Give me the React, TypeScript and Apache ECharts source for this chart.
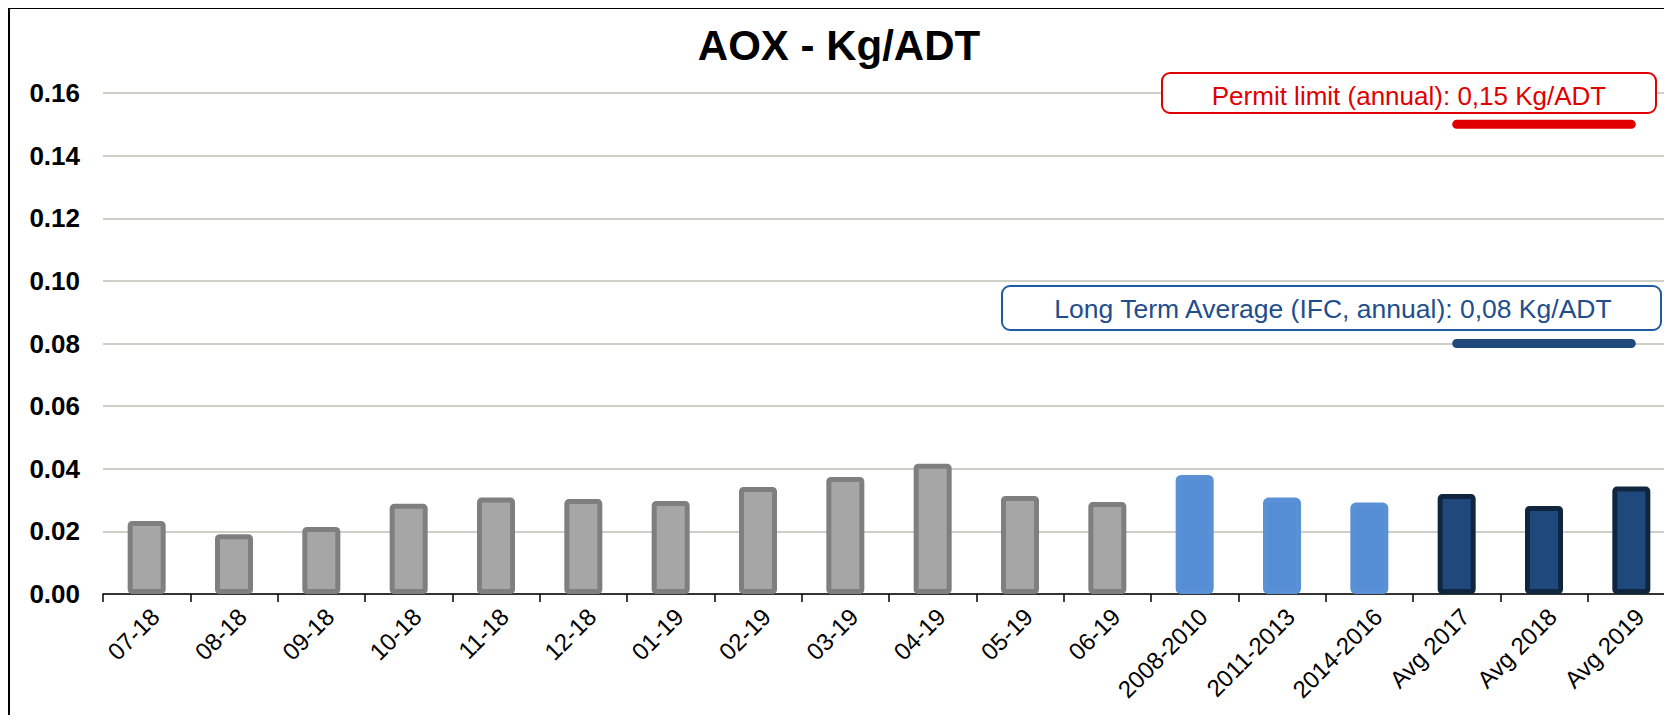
import React, { useEffect, useRef } from "react";
import * as echarts from "echarts";

// ---- data ----
const monthlyLabels = ["07-18", "08-18", "09-18", "10-18", "11-18", "12-18", "01-19", "02-19", "03-19", "04-19", "05-19", "06-19"];
const monthlyValues = [0.0233, 0.0191, 0.0214, 0.0288, 0.0308, 0.0303, 0.0297, 0.0342, 0.0374, 0.0416, 0.0313, 0.0294];
const periodLabels = ["2008-2010", "2011-2013", "2014-2016"];
const periodValues = [0.038, 0.0308, 0.0292];
const annualLabels = ["Avg 2017", "Avg 2018", "Avg 2019"];
const annualValues = [0.0319, 0.0281, 0.0343];
const permitLimit = 0.15;
const ifcLongTermAverage = 0.08;
const yMin = 0;
const yMax = 0.16;
const yInterval = 0.02;

const titleText = "AOX - Kg/ADT";
const permitText = "Permit limit (annual): 0,15 Kg/ADT";
const ifcText = "Long Term Average (IFC, annual): 0,08 Kg/ADT";

const FONT = '"Liberation Sans", Arial, sans-serif';

export default function App() {
  const ref = useRef<HTMLDivElement>(null);

  useEffect(() => {
    const chart = echarts.init(ref.current!, null, { renderer: "svg" });
    const categories = [...monthlyLabels, ...periodLabels, ...annualLabels];

    const barData = [
      ...monthlyValues.map((v) => ({
        value: v,
        itemStyle: { color: "#A6A6A6", borderColor: "#7F7F7F", borderWidth: 5, borderRadius: 2 },
      })),
      ...periodValues.map((v) => ({
        value: v,
        itemStyle: { color: "#558ED5", borderColor: "#5A91D6", borderWidth: 5, borderRadius: 3 },
      })),
      ...annualValues.map((v) => ({
        value: v,
        itemStyle: { color: "#1F497D", borderColor: "#10263F", borderWidth: 5, borderRadius: 2 },
      })),
    ];

    const refLine = (val: number) => categories.map((c) => (annualLabels.includes(c) ? val : "-"));

    chart.setOption({
      animation: false,
      backgroundColor: "#ffffff",
      grid: { left: 103, right: 25, top: 93, bottom: 130, containLabel: false },
      xAxis: {
        type: "category",
        data: categories,
        boundaryGap: true,
        axisLine: { lineStyle: { color: "#000", width: 1.5 } },
        axisTick: { show: true, length: 8, lineStyle: { color: "#000", width: 1.5 } },
        axisLabel: {
          rotate: 45,
          interval: 0,
          fontSize: 24,
          fontFamily: FONT,
          color: "#000",
          margin: 10,
          align: "right",
          verticalAlign: "top",
        },
      },
      yAxis: {
        type: "value",
        min: yMin,
        max: yMax,
        interval: yInterval,
        axisLine: { show: false },
        axisTick: { show: false },
        splitLine: { lineStyle: { color: "#BFBFB4", width: 1.5 } },
        axisLabel: {
          formatter: (v: number) => v.toFixed(2),
          fontSize: 26,
          fontWeight: "bold",
          fontFamily: FONT,
          color: "#000",
          margin: 23,
        },
      },
      series: [
        { type: "bar", data: barData, barWidth: 38, z: 2 },
        {
          type: "line",
          data: refLine(permitLimit),
          symbol: "none",
          silent: true,
          z: 3,
          lineStyle: { color: "#E00000", width: 9, cap: "round" },
        },
        {
          type: "line",
          data: refLine(ifcLongTermAverage),
          symbol: "none",
          silent: true,
          z: 3,
          lineStyle: { color: "#1F497D", width: 9, cap: "round" },
        },
      ],
      graphic: [
        {
          type: "text",
          x: 839,
          y: 45,
          z: 100,
          style: {
            text: titleText,
            fill: "#000",
            fontSize: 42,
            fontWeight: "bold",
            fontFamily: FONT,
            align: "center",
            verticalAlign: "middle",
          },
        },
        {
          type: "rect",
          z: 100,
          shape: { x: 1162, y: 73, width: 494, height: 40, r: 8 },
          style: { fill: "#fff", stroke: "#E00000", lineWidth: 2 },
        },
        {
          type: "text",
          x: 1409,
          y: 96,
          z: 101,
          style: {
            text: permitText,
            fill: "#E00000",
            fontSize: 26,
            fontFamily: FONT,
            align: "center",
            verticalAlign: "middle",
          },
        },
        {
          type: "rect",
          z: 100,
          shape: { x: 1002, y: 286, width: 659, height: 44, r: 8 },
          style: { fill: "#fff", stroke: "#1F5C9E", lineWidth: 2 },
        },
        {
          type: "text",
          x: 1333,
          y: 308.5,
          z: 101,
          style: {
            text: ifcText,
            fill: "#1F4E8C",
            fontSize: 26.5,
            fontFamily: FONT,
            align: "center",
            verticalAlign: "middle",
          },
        },
      ],
    });
    return () => chart.dispose();
  }, []);

  return (
    <div
      style={{
        position: "relative",
        width: 1664,
        height: 708,
        marginTop: -1,
        overflow: "hidden",
        borderLeft: "2px solid #000",
        borderTop: "2px solid #000",
        boxSizing: "border-box",
        background: "#fff",
      }}
    >
      <div ref={ref} style={{ position: "absolute", left: -10, top: -9, width: 1700, height: 724 }} />
    </div>
  );
}
